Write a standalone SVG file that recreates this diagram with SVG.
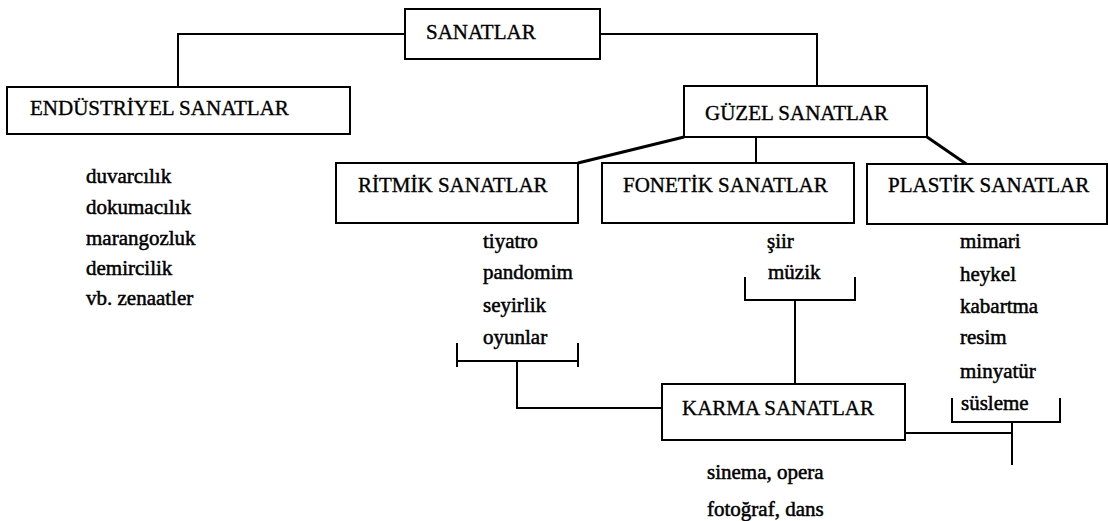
<svg xmlns="http://www.w3.org/2000/svg" width="1108" height="521" viewBox="0 0 1108 521">
  <style>
    .box { fill: #fff; stroke: #000; stroke-width: 2; }
    .lbl { font-family: "Liberation Serif", "Times New Roman", serif; font-size: 21px; fill: #000; stroke: #000; stroke-width: 0.35; }
    .item { font-family: "Liberation Serif", "Times New Roman", serif; font-size: 21px; fill: #000; stroke: #000; stroke-width: 0.5; }
    .wire { fill: none; stroke: #000; stroke-width: 2; }
    .slant { fill: none; stroke: #000; stroke-width: 3; }
  </style>
  <rect width="1108" height="521" fill="#fff"/>

  <!-- connectors -->
  <g id="connectors">
    <polyline class="wire" points="405,34 178,34 178,87"/>
    <polyline class="wire" points="600,34 817,34 817,86"/>
    <line class="slant" x1="684" y1="137" x2="578" y2="163"/>
    <line class="wire" x1="756" y1="137" x2="756" y2="163"/>
    <line class="slant" x1="927" y1="137" x2="975" y2="170"/>
    <!-- bracket under ritmik list -->
    <line class="wire" x1="457" y1="343" x2="457" y2="367"/>
    <line class="wire" x1="578" y1="343" x2="578" y2="367"/>
    <line class="wire" x1="457" y1="361" x2="578" y2="361"/>
    <polyline class="wire" points="517,361 517,408 662,408"/>
    <!-- bracket under fonetik list -->
    <polyline class="wire" points="745,277 745,300 855,300 855,277"/>
    <line class="wire" x1="795" y1="300" x2="795" y2="384"/>
    <!-- bracket under plastik list -->
    <polyline class="wire" points="952,398 952,422 1060,422 1060,398"/>
    <line class="wire" x1="1012" y1="422" x2="1012" y2="465"/>
    <line class="wire" x1="905" y1="433" x2="1012" y2="433"/>
  </g>

  <g id="sanatlar">
    <rect class="box" x="405" y="9" width="195" height="50"/>
    <text class="lbl" x="426" y="39">SANATLAR</text>
  </g>

  <g id="endustriyel">
    <rect class="box" x="7" y="87" width="343" height="47"/>
    <text class="lbl" x="30" y="115">ENDÜSTRİYEL SANATLAR</text>
    <text class="item" x="86" y="183">duvarcılık</text>
    <text class="item" x="86" y="214">dokumacılık</text>
    <text class="item" x="86" y="245">marangozluk</text>
    <text class="item" x="86" y="275">demircilik</text>
    <text class="item" x="86" y="305">vb. zenaatler</text>
  </g>

  <g id="guzel">
    <rect class="box" x="684" y="86" width="243" height="51"/>
    <text class="lbl" x="705" y="120">GÜZEL SANATLAR</text>
  </g>

  <g id="ritmik">
    <rect class="box" x="336" y="163" width="242" height="60"/>
    <text class="lbl" x="358" y="192">RİTMİK SANATLAR</text>
    <text class="item" x="483" y="248">tiyatro</text>
    <text class="item" x="483" y="279">pandomim</text>
    <text class="item" x="483" y="312">seyirlik</text>
    <text class="item" x="483" y="344">oyunlar</text>
  </g>

  <g id="fonetik">
    <rect class="box" x="602" y="163" width="252" height="60"/>
    <text class="lbl" x="623" y="192">FONETİK SANATLAR</text>
    <text class="item" x="767" y="248">şiir</text>
    <text class="item" x="768" y="279">müzik</text>
  </g>

  <g id="plastik">
    <rect class="box" x="867" y="164" width="240" height="60"/>
    <text class="lbl" x="888" y="192">PLASTİK SANATLAR</text>
    <text class="item" x="960" y="248">mimari</text>
    <text class="item" x="960" y="281">heykel</text>
    <text class="item" x="960" y="313">kabartma</text>
    <text class="item" x="960" y="344">resim</text>
    <text class="item" x="960" y="378">minyatür</text>
    <text class="item" x="961" y="410">süsleme</text>
  </g>

  <g id="karma">
    <rect class="box" x="662" y="384" width="243" height="56"/>
    <text class="lbl" x="682" y="415">KARMA SANATLAR</text>
    <text class="item" x="707" y="479">sinema, opera</text>
    <text class="item" x="707" y="516">fotoğraf, dans</text>
  </g>
</svg>
